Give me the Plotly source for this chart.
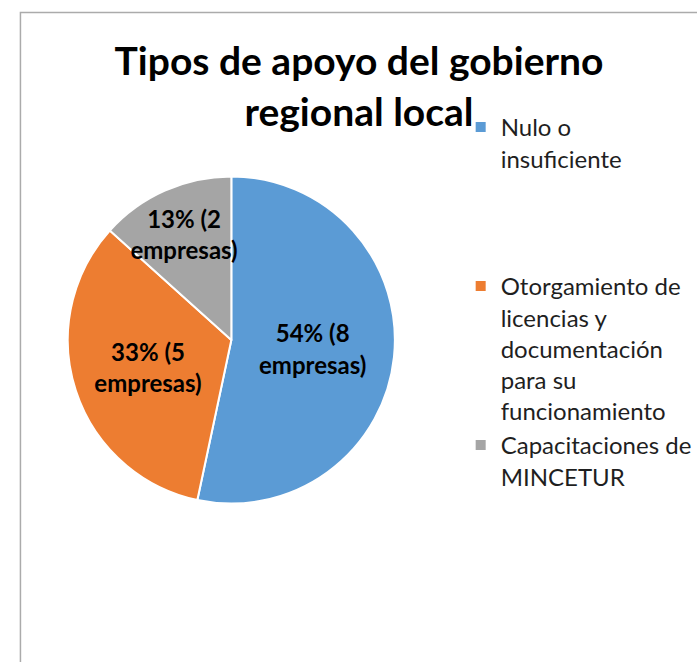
"""Pie chart: tipos de apoyo del gobierno regional local."""

import plotly.graph_objects as go

W, H = 697, 662

categories = [
    "Nulo o<br>insuficiente",
    "Otorgamiento de<br>licencias y<br>documentación<br>para su<br>funcionamiento",
    "Capacitaciones de<br>MINCETUR",
]
empresas = [8, 5, 2]
pct_labels = ["54%", "33%", "13%"]
colors = ["#5B9BD5", "#ED7D31", "#A5A5A5"]

# pad short legend entries with blank lines so items spread out like the original
blank = "<br>\u00a0"
legend_names = [categories[0] + blank * 3, categories[1], categories[2]]

texts = [f"{p} ({n}<br>empresas)" for p, n in zip(pct_labels, empresas)]

fig = go.Figure(go.Pie(
    labels=legend_names,
    values=empresas,
    text=texts,
    texttemplate="%{text}",
    textposition="inside",
    insidetextorientation="horizontal",
    textfont=dict(family="Lato", size=24, color="black", weight="bold"),
    marker=dict(colors=colors, line=dict(color="white", width=2)),
    sort=False,
    direction="clockwise",
    rotation=0,
    domain=dict(x=[68 / W, 396 / W], y=[1 - 504 / H, 1 - 176 / H]),
    hoverinfo="label+value",
))

fig.update_layout(
    width=W, height=H,
    margin=dict(l=0, r=0, t=0, b=0),
    paper_bgcolor="white",
    title=dict(
        text="Tipos de apoyo del gobierno<br>regional local",
        x=359 / W, xanchor="center",
        y=1 - 75 / H, yanchor="top",
        font=dict(family="Lato", size=39, color="black", weight="bold"),
    ),
    legend=dict(
        x=462 / W, xanchor="left",
        y=1 - 105 / H, yanchor="top",
        valign="top",
        font=dict(family="Lato", size=24, color="#1f1f1f"),
        bgcolor="rgba(0,0,0,0)",
    ),
    uniformtext=dict(minsize=24, mode="show"),
    shapes=[dict(
        type="rect", xref="paper", yref="paper",
        x0=20.5 / W, x1=1.05, y0=-0.05, y1=1 - 12.5 / H,
        line=dict(color="#ABABAB", width=1.5),
        layer="below",
    )],
)

# drop the browser's default body margin so the figure sits at the page corner
fig.write_html("out.html", config={"displayModeBar": False},
               post_script="document.body.style.margin='0';")
